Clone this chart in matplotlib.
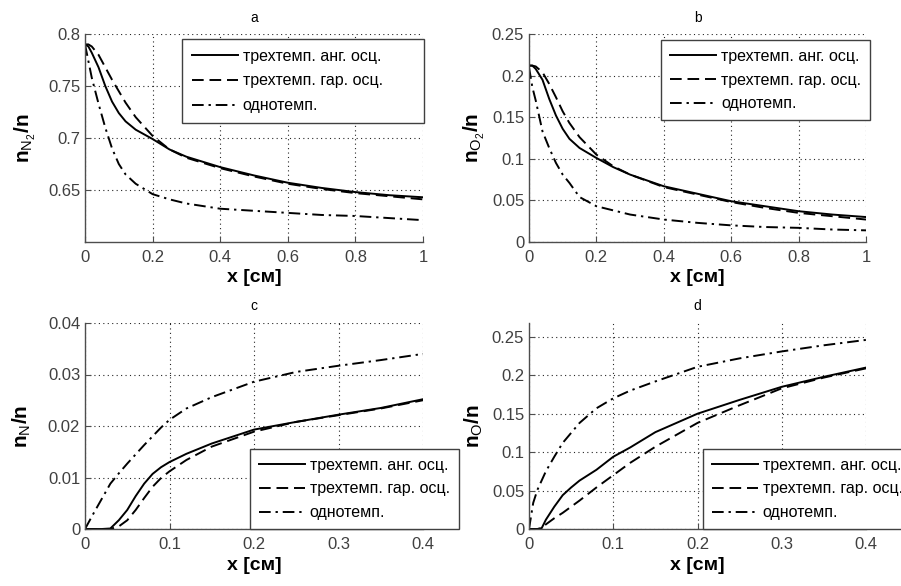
import numpy as np
import matplotlib
matplotlib.use("Agg")
import matplotlib.pyplot as plt

plt.rcParams['font.family'] = ['Liberation Sans', 'DejaVu Sans']
plt.rcParams['mathtext.fontset'] = 'custom'
plt.rcParams['mathtext.rm'] = 'Liberation Sans'
plt.rcParams['mathtext.bf'] = 'Liberation Sans:bold'

labels = ["трехтемп. анг. осц.", "трехтемп. гар. осц.", "однотемп."]

# a, b: molecules along x [cm]
x_ab = [0, 0.01, 0.02, 0.04, 0.06, 0.08, 0.1, 0.12, 0.15, 0.2, 0.25, 0.3,
        0.4, 0.5, 0.6, 0.7, 0.8, 0.9, 1.0]
n2_anh = [0.790, 0.788, 0.782, 0.768, 0.750, 0.735, 0.724, 0.716, 0.708, 0.699,
          0.689, 0.682, 0.672, 0.664, 0.657, 0.652, 0.648, 0.645, 0.643]
n2_har = [0.790, 0.790, 0.788, 0.780, 0.768, 0.756, 0.745, 0.734, 0.720, 0.702,
          0.689, 0.681, 0.671, 0.663, 0.656, 0.651, 0.647, 0.644, 0.641]
n2_one = [0.790, 0.774, 0.758, 0.733, 0.710, 0.690, 0.675, 0.665, 0.656, 0.646,
          0.641, 0.637, 0.632, 0.630, 0.628, 0.626, 0.625, 0.623, 0.621]

o2_anh = [0.212, 0.212, 0.208, 0.195, 0.172, 0.152, 0.136, 0.124, 0.113, 0.101,
          0.090, 0.081, 0.067, 0.058, 0.049, 0.043, 0.037, 0.033, 0.030]
o2_har = [0.212, 0.212, 0.211, 0.204, 0.190, 0.174, 0.157, 0.143, 0.126, 0.105,
          0.091, 0.081, 0.066, 0.057, 0.048, 0.041, 0.035, 0.031, 0.027]
o2_one = [0.210, 0.186, 0.170, 0.133, 0.113, 0.095, 0.081, 0.071, 0.054, 0.043,
          0.038, 0.033, 0.027, 0.023, 0.020, 0.018, 0.017, 0.015, 0.014]

# c: atomic nitrogen
x_c = [0, 0.01, 0.02, 0.03, 0.04, 0.05, 0.06, 0.07, 0.08, 0.09, 0.1, 0.12,
       0.15, 0.2, 0.25, 0.3, 0.35, 0.4]
n_anh = [0, 0, 0, 0.0001, 0.0017, 0.0037, 0.0064, 0.0088, 0.0107, 0.0120,
         0.0130, 0.0146, 0.0166, 0.0193, 0.0208, 0.0222, 0.0235, 0.0252]
n_har = [0, 0, 0, 0, 0.0005, 0.0017, 0.0037, 0.0060, 0.0082, 0.0099,
         0.0112, 0.0134, 0.0160, 0.0189, 0.0208, 0.0221, 0.0234, 0.0250]
n_one = [0, 0.0030, 0.0059, 0.0088, 0.0108, 0.0127, 0.0145, 0.0163, 0.0180,
         0.0197, 0.0212, 0.0234, 0.0256, 0.0286, 0.0305, 0.0317, 0.0328, 0.0340]

# d: atomic oxygen
x_d = [0, 0.005, 0.01, 0.015, 0.02, 0.03, 0.04, 0.05, 0.06, 0.08, 0.1, 0.12,
       0.15, 0.2, 0.25, 0.3, 0.35, 0.4]
o_anh = [0, 0, 0, 0.001, 0.012, 0.029, 0.044, 0.054, 0.063, 0.077, 0.094,
         0.106, 0.126, 0.150, 0.168, 0.185, 0.198, 0.210]
o_har = [0, 0, 0, 0.001, 0.006, 0.014, 0.021, 0.029, 0.037, 0.054, 0.070,
         0.086, 0.107, 0.138, 0.161, 0.183, 0.197, 0.209]
o_one = [0, 0.034, 0.051, 0.063, 0.075, 0.094, 0.112, 0.125, 0.138, 0.157,
         0.170, 0.180, 0.192, 0.211, 0.222, 0.231, 0.239, 0.246]

styles = ['-', (0, (6, 3)), (0, (6, 2.5, 1.2, 2.5))]

fig = plt.figure(figsize=(9.01, 5.86), dpi=100)
W, H = 901.0, 586.0

def make_axes(l, t, r, b):
    return fig.add_axes([l / W, 1 - b / H, (r - l) / W, (b - t) / H])

panels = [
    dict(ax=make_axes(85, 34, 423, 242), x=x_ab, ys=(n2_anh, n2_har, n2_one),
         xlim=(0, 1), ylim=(0.6, 0.8), xt=[0, 0.2, 0.4, 0.6, 0.8, 1],
         yt=[0.65, 0.7, 0.75, 0.8], title='a',
         ylab=r'$\mathbf{n}_{\mathrm{N}_2}\mathbf{/n}$', ylx=-0.140,
         leg=dict(loc='upper left', bbox_to_anchor=(0.287, 0.0, 0.716, 0.976),
                  mode='expand', labelspacing=0.62, borderpad=0.6)),
    dict(ax=make_axes(529, 34, 866, 242), x=x_ab, ys=(o2_anh, o2_har, o2_one),
         xlim=(0, 1), ylim=(0, 0.25), xt=[0, 0.2, 0.4, 0.6, 0.8, 1],
         yt=[0, 0.05, 0.1, 0.15, 0.2, 0.25], title='b',
         ylab=r'$\mathbf{n}_{\mathrm{O}_2}\mathbf{/n}$', ylx=-0.125,
         leg=dict(loc='upper left', bbox_to_anchor=(0.392, 0.971))),
    dict(ax=make_axes(85, 323, 423, 529), x=x_c, ys=(n_anh, n_har, n_one),
         xlim=(0, 0.4), ylim=(0, 0.04), xt=[0, 0.1, 0.2, 0.3, 0.4],
         yt=[0, 0.01, 0.02, 0.03, 0.04], title='c',
         ylab=r'$\mathbf{n}_{\mathrm{N}}\mathbf{/n}$', ylx=-0.154,
         leg=dict(loc='lower left', bbox_to_anchor=(0.488, 0.0))),
    dict(ax=make_axes(529, 323, 866, 529), x=x_d, ys=(o_anh, o_har, o_one),
         xlim=(0, 0.4), ylim=(0, 0.268), xt=[0, 0.1, 0.2, 0.3, 0.4],
         yt=[0, 0.05, 0.1, 0.15, 0.2, 0.25], title='d',
         ylab=r'$\mathbf{n}_{\mathrm{O}}\mathbf{/n}$', ylx=-0.130,
         leg=dict(loc='lower left', bbox_to_anchor=(0.516, 0.0))),
]

for p in panels:
    ax = p['ax']
    for y, ls, lab in zip(p['ys'], styles, labels):
        ax.plot(p['x'], y, color='black', linestyle=ls, lw=1.4, label=lab)
    ax.set_xlim(*p['xlim'])
    ax.set_ylim(*p['ylim'])
    ax.set_xticks(p['xt'])
    ax.set_yticks(p['yt'])
    ax.set_xticklabels(['%g' % v for v in p['xt']])
    ax.set_yticklabels(['%g' % v for v in p['yt']])
    ax.grid(True, color='0.15', linestyle=(0, (1, 3)), lw=0.8)
    ax.spines['top'].set_visible(False)
    ax.spines['right'].set_visible(False)
    for s in ('left', 'bottom'):
        ax.spines[s].set_color('0.3')
        ax.spines[s].set_linewidth(1.0)
    ax.tick_params(direction='in', length=4, width=0.8, colors='0.3',
                   labelcolor='0.25', labelsize=12)
    ax.tick_params(axis='x', pad=6)
    ax.set_title(p['title'], fontsize=10, pad=9)
    ax.set_xlabel('x [см]', fontsize=14, fontweight='bold', labelpad=3)
    ax.set_ylabel(p['ylab'], fontsize=15)
    ax.yaxis.set_label_coords(p['ylx'], 0.5)
    opts = dict(fontsize=11.5, frameon=True, fancybox=False,
                edgecolor='0.25', framealpha=1, borderaxespad=0,
                handlelength=2.9, handletextpad=0.3, labelspacing=0.55,
                borderpad=0.55)
    opts.update(p['leg'])
    leg = ax.legend(**opts)
    leg.get_frame().set_linewidth(1.0)

fig.savefig('out.png', dpi=100)
